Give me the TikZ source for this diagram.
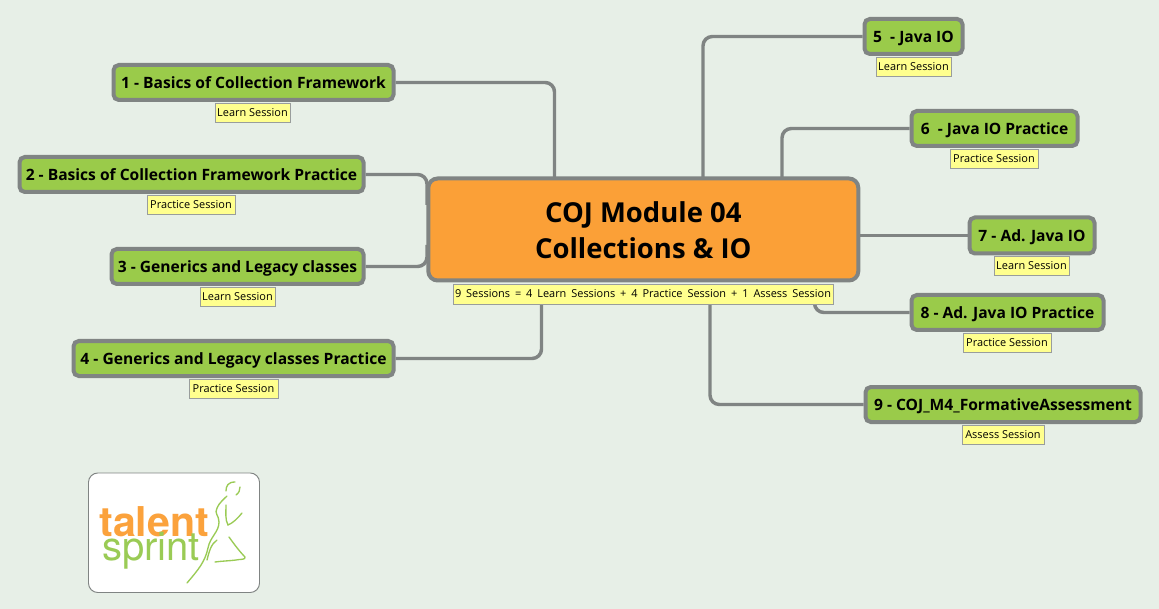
\documentclass[tikz,border=0pt]{standalone}
\usepackage{fontspec}
\setmainfont{Open Sans}
\newfontfamily\logofont{TeX Gyre Heros}
\definecolor{bgc}{HTML}{E7EFE7}
\definecolor{linec}{HTML}{808483}
\definecolor{greenc}{HTML}{9ACB4A}
\definecolor{orangec}{HTML}{FBA037}
\definecolor{notec}{HTML}{FFFF8E}
\definecolor{logoor}{HTML}{FBA23C}
\definecolor{logogr}{HTML}{9ACB55}
\tikzset{
  sz/.style 2 args={minimum width=#1*0.75pt,minimum height=#2*0.75pt},
  topic/.style={draw=linec,fill=greenc,line width=3pt,rounded corners=4pt,inner sep=0pt,text height=8.4pt,text depth=0pt,font=\bfseries\fontsize{11.7}{14}\selectfont,text=black},
  hub/.style={draw=linec,fill=orangec,line width=3pt,rounded corners=7pt,inner sep=0pt,font=\bfseries\fontsize{20.6}{27}\selectfont,text=black},
  notebox/.style={draw=linec!80,fill=notec,line width=0.5pt,inner sep=0pt,text height=5.9pt,text depth=0pt,font=\fontsize{8.2}{10}\selectfont,text=black},
  conn/.style={draw=linec,line width=2.6pt,rounded corners=7pt},
  runner/.style={draw=logogr,line width=1pt,line cap=round},
}
\begin{document}
\begin{tikzpicture}[x=0.75pt,y=-0.75pt]
\useasboundingbox (0,0) rectangle (1159,609);
\fill[bgc] (0,0) rectangle (1159,609);

\coordinate (h1) at (554.5,180);
\coordinate (h2) at (427,205);
\coordinate (h3) at (427,245);
\coordinate (h4) at (541.5,295);
\coordinate (h5) at (703,180);
\coordinate (h6) at (782,180);
\coordinate (h7) at (855,235.5);
\coordinate (h8) at (814.5,295);
\coordinate (h9) at (710,295);

\node[topic,sz={280}{35}] (t1) at (253.5,82.5) {1 - Basics of Collection Framework};
\node[topic,sz={344}{35}] (t2) at (191.5,174.5) {2 - Basics of Collection Framework Practice};
\node[topic,sz={252}{35}] (t3) at (237.5,266.5) {3 - Generics and Legacy classes};
\node[topic,sz={320}{35}] (t4) at (233.5,358.5) {4 - Generics and Legacy classes Practice};
\node[topic,sz={98}{35}] (t5) at (913.5,36.5) {5~ - Java IO};
\node[topic,sz={166}{35}] (t6) at (994.5,128.5) {6~ - Java IO Practice};
\node[topic,sz={125}{36}] (t7) at (1032,235.5) {7 - Ad. Java IO};
\node[topic,sz={192}{35}] (t8) at (1007.5,312.5) {8 - Ad. Java IO Practice};
\node[topic,sz={275}{35}] (t9) at (1003,404.5) {9 - COJ\_M4\_FormativeAssessment};

\draw[conn] (t1.east) -| (h1);
\draw[conn] (t2.east) -| (h2);
\draw[conn] (t3.east) -| (h3);
\draw[conn] (t4.east) -| (h4);
\draw[conn] (t5.west) -| (h5);
\draw[conn] (t6.west) -| (h6);
\draw[conn] (h7) -- (t7.west);
\draw[conn] (t8.west) -| (h8);
\draw[conn] (t9.west) -| (h9);

\node[hub,sz={430}{102}] (hub) at (643.3,229.5) {\raisebox{-8.3pt}[12pt][12pt]{\begin{tabular}{@{}c@{}}COJ Module 04\\Collections \& IO\end{tabular}}};

\node[notebox,sz={75}{19}] (n1) at (252.5,112.5) {Learn Session};
\node[notebox,sz={88}{19}] (n2) at (191,204.5) {Practice Session};
\node[notebox,sz={75}{19}] (n3) at (237.5,296.5) {Learn Session};
\node[notebox,sz={89}{19}] (n4) at (233.5,388.5) {Practice Session};
\node[notebox,sz={75}{19}] (n5) at (913.5,66.5) {Learn Session};
\node[notebox,sz={88}{19}] (n6) at (994,158.5) {Practice Session};
\node[notebox,sz={75}{19}] (n7) at (1031.5,265.5) {Learn Session};
\node[notebox,sz={88}{19}] (n8) at (1007,342.5) {Practice Session};
\node[notebox,sz={82}{19}] (n9) at (1003,434.5) {Assess Session};
\node[notebox,sz={380}{20}] (n0) at (643,294) {\spaceskip=3.7pt 9 Sessions = 4 Learn Sessions + 4 Practice Session + 1 Assess Session};

% logo
\draw[draw=linec,fill=white,line width=0.7pt,rounded corners=7pt] (88.5,473) rectangle (259.5,592.5);
\node[anchor=base west,inner sep=0pt,text=logoor,font=\logofont\bfseries\fontsize{30.8}{34}\selectfont] (logoa) at (99,536) {talent};
\node[anchor=base west,inner sep=0pt,text=logogr,font=\logofont\fontsize{30}{34}\selectfont] (logob) at (102,560) {sprint};
\draw[runner] (187,583) .. controls (198,570) and (205,562) .. (208,548) .. controls (210,537) and (219,532) .. (219,522) .. controls (219,515) and (214,514) .. (217,508) .. controls (219,503) and (224,499) .. (227,496);
\draw[runner] (226,491) .. controls (226,486) and (228,482) .. (235,482);
\draw[runner] (240,487) .. controls (240,490) and (239,493) .. (236,495);
\draw[runner] (226,505) .. controls (226,512) and (225,520) .. (228,525) .. controls (233,523) and (238,518) .. (242,513);
\draw[runner] (229,537) .. controls (234,544) and (240,552) .. (245,557) .. controls (246,560) and (240,559) .. (236,560) .. controls (228,561) and (222,561) .. (215,562);
\draw[runner] (217,540) .. controls (211,544) and (209,552) .. (207,560);
\end{tikzpicture}
\end{document}
